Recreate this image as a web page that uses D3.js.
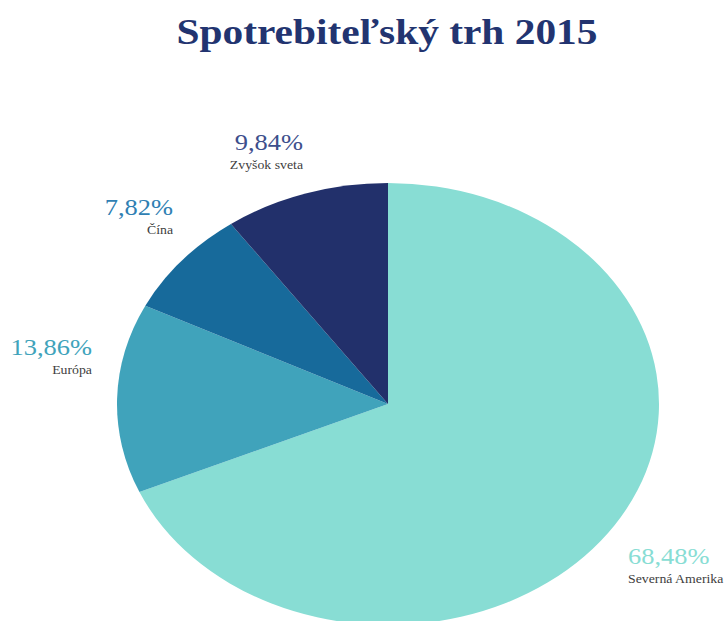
<!DOCTYPE html>
<html>
<head>
<meta charset="utf-8">
<script src="https://cdnjs.cloudflare.com/ajax/libs/d3/7.8.5/d3.min.js"></script>
<style>
  body { margin: 0; background: #fff; }
  svg { display: block; }
  text { font-family: "Liberation Serif", "DejaVu Serif", serif; }
</style>
</head>
<body>
<svg id="chart" width="724" height="621"></svg>
<script>
// data
var regions = ["Severná Amerika", "Európa", "Čína", "Zvyšok sveta"];
var shares = [68.48, 13.86, 7.82, 9.84];
var colors = ["#88ddd4", "#40a3bb", "#176a9b", "#22306b"];
var labelColors = ["#88ddd4", "#40a3bb", "#2f7fb3", "#3d4f8c"];

// label layout: anchor x, baseline y of the percent, text-anchor
var labelLayout = [
  {x: 628, y: 564, anchor: "start"},
  {x: 92, y: 355, anchor: "end"},
  {x: 173, y: 215, anchor: "end"},
  {x: 303, y: 150, anchor: "end"}
];

var svg = d3.select("#chart");
var cx = 388, cy = 404, rx = 271, ry = 221;
var stretch = 1.15; // the whole picture is widened a bit

// title
svg.append("text")
  .attr("transform", "translate(387,44) scale(" + stretch + ",1)")
  .attr("text-anchor", "middle")
  .style("font-weight", "bold")
  .style("font-size", "36px")
  .style("fill", "#223470")
  .text("Spotrebiteľský trh 2015");

var pie = d3.pie().sort(null).value(function(d) { return d; });
var arc = d3.arc().innerRadius(0).outerRadius(ry);

var slices = pie(shares);

// pie drawn as a circle and stretched into the ellipse
svg.append("g")
  .attr("transform", "translate(" + cx + "," + cy + ") scale(" + (rx / ry) + ",1)")
  .selectAll("path")
  .data(slices)
  .enter().append("path")
    .attr("d", arc)
    .attr("fill", function(d, i) { return colors[i]; });

var fmt = function(v) { return v.toFixed(2).replace(".", ",") + "%"; };

var labels = svg.append("g").selectAll("g")
  .data(slices)
  .enter().append("g")
    .attr("transform", function(d, i) {
      return "translate(" + labelLayout[i].x + "," + labelLayout[i].y + ") scale(" + stretch + ",1)";
    });

labels.append("text")
  .attr("text-anchor", function(d, i) { return labelLayout[i].anchor; })
  .style("font-size", "23px")
  .style("fill", function(d, i) { return labelColors[i]; })
  .text(function(d) { return fmt(d.data); });

labels.append("text")
  .attr("y", 19)
  .attr("text-anchor", function(d, i) { return labelLayout[i].anchor; })
  .style("font-size", "12px")
  .style("fill", "#404040")
  .text(function(d, i) { return regions[i]; });
</script>
</body>
</html>
